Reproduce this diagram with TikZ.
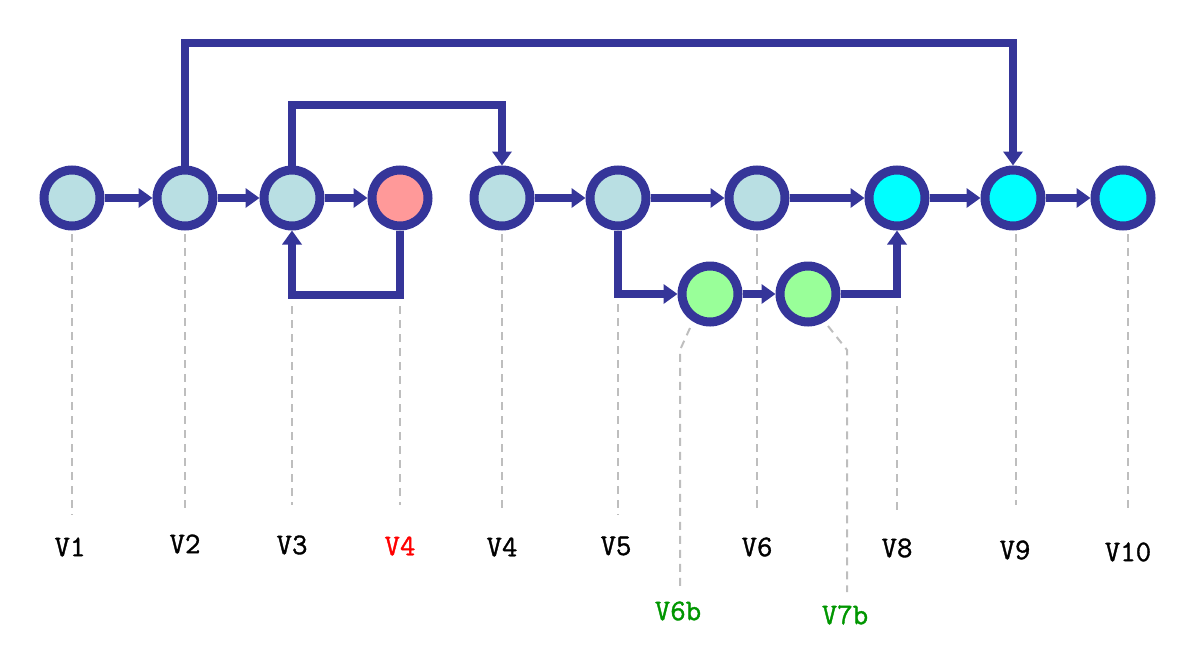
\documentclass[tikz,border=0pt]{standalone}
\usepackage{fontspec}
\newfontfamily\labfont[FakeBold=1.2]{Latin Modern Mono}
\usetikzlibrary{arrows.meta,calc}
\definecolor{ring}{RGB}{53,53,153}
\definecolor{lblue}{RGB}{185,223,227}
\definecolor{lred}{RGB}{255,153,153}
\definecolor{lcyan}{RGB}{0,255,255}
\definecolor{lgreen}{RGB}{153,255,153}
\definecolor{gline}{RGB}{190,190,190}
\definecolor{dgreen}{RGB}{0,150,0}
\tikzset{
  vert/.style={circle,draw=ring,line width=9pt,minimum size=56pt,inner sep=0pt},
  edge/.style={draw=ring,line width=8.5pt,-{Triangle[length=14pt,width=19pt]}},
  guide/.style={draw=gline,line width=2pt,dash pattern=on 8pt off 6pt},
  lab/.style={font=\fontsize{30}{31}\labfont,inner sep=0pt}
}
\begin{document}
\begin{tikzpicture}[x=1pt,y=-1pt]
\useasboundingbox (0,0) rectangle (1201,659);
% nodes
\node[vert,fill=lblue] (v1) at (72,198) {};
\node[vert,fill=lblue] (v2) at (185,198) {};
\node[vert,fill=lblue] (v3) at (292,198) {};
\node[vert,fill=lred] (v4r) at (400,198) {};
\node[vert,fill=lblue] (v4) at (502,198) {};
\node[vert,fill=lblue] (v5) at (618,198) {};
\node[vert,fill=lblue] (v6) at (757,198) {};
\node[vert,fill=lcyan] (v8) at (897,198) {};
\node[vert,fill=lcyan] (v9) at (1013,198) {};
\node[vert,fill=lcyan] (v10) at (1123,198) {};
\node[vert,fill=lgreen] (v6b) at (710,294) {};
\node[vert,fill=lgreen] (v7b) at (808,294) {};
% labels
\node[lab] (l1) at (70,547) {V1};
\node[lab] (l2) at (185,544) {V2};
\node[lab] (l3) at (292,545) {V3};
\node[lab,text=red] (l4r) at (400,546) {V4};
\node[lab] (l4) at (502,547) {V4};
\node[lab] (l5) at (616,546) {V5};
\node[lab] (l6) at (757,547) {V6};
\node[lab] (l8) at (897,548) {V8};
\node[lab] (l9) at (1015,550) {V9};
\node[lab] (l10) at (1128,552) {V10};
\node[lab,text=dgreen] (l6b) at (678,611) {V6b};
\node[lab,text=dgreen] (l7b) at (845,615) {V7b};
% helper coordinates
\coordinate (top1) at (0,43);
\coordinate (top2) at (0,105);
\coordinate (low) at (0,295);
\coordinate (k6b) at (680,350);
\coordinate (k7b) at (847,350);
% guides
\draw[guide] (72,234) -- (72,515);
\draw[guide] (185,234) -- (185,510);
\draw[guide] (292,306) -- (292,505);
\draw[guide] (400,306) -- (400,505);
\draw[guide] (502,234) -- (502,510);
\draw[guide] (618,304) -- (618,515);
\draw[guide] (757,234) -- (757,510);
\draw[guide] (897,306) -- (897,513);
\draw[guide] (1016,234) -- (1016,505);
\draw[guide] (1128,234) -- (1128,510);
\draw[guide] (690,328) -- (k6b) -- (680,588);
\draw[guide] (828,326) -- (k7b) -- (847,592);
% edges
\draw[edge] (v1) -- (v2);
\draw[edge] (v2) -- (v3);
\draw[edge] (v3) -- (v4r);
\draw[edge] (v4) -- (v5);
\draw[edge] (v5) -- (v6);
\draw[edge] (v6) -- (v8);
\draw[edge] (v8) -- (v9);
\draw[edge] (v9) -- (v10);
\draw[edge] (v6b) -- (v7b);
\draw[edge] (v2.north) -- (v2.north |- top1) -| (v9.north);
\draw[edge] (v3.north) -- (v3.north |- top2) -| (v4.north);
\draw[edge] (v4r.south) -- (v4r.south |- low) -| (v3.south);
\draw[edge] (v5.south) |- (v6b.west);
\draw[edge] (v7b.east) -| (v8.south);
\end{tikzpicture}
\end{document}
